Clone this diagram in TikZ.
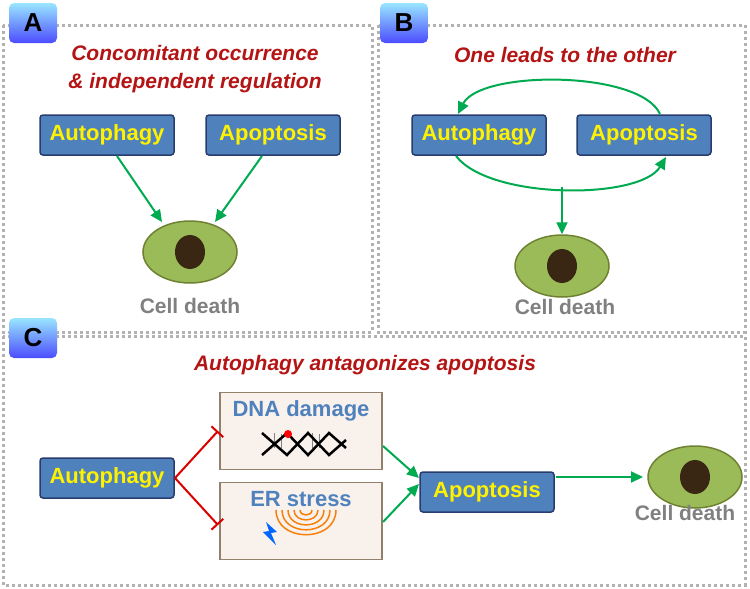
\documentclass[tikz,border=0pt]{standalone}
\usepackage{fontspec}
\setmainfont{Liberation Sans}
\usetikzlibrary{arrows.meta,shapes.geometric,shadings}
\definecolor{boxb}{RGB}{79,129,189}
\definecolor{boxd}{RGB}{40,60,110}
\definecolor{cellg}{RGB}{155,187,89}
\definecolor{celld}{RGB}{110,130,50}
\definecolor{ttlr}{RGB}{180,20,20}
\definecolor{arrg}{RGB}{0,170,80}
\begin{document}
\begin{tikzpicture}[x=1pt,y=-1pt,
 panel/.style={draw=gray!60,line width=3pt,dash pattern=on 3pt off 3pt},
 lab/.style={rounded corners=5pt,top color=blue!25!cyan!40,bottom color=blue!70,draw=none,minimum width=48pt,minimum height=40pt,font=\bfseries\fontsize{26}{26}\selectfont,text=black},
 proc/.style={draw=boxd,fill=boxb,line width=1.5pt,rounded corners=3pt,minimum width=134pt,minimum height=40pt,font=\bfseries\fontsize{22}{22}\selectfont,text=yellow},
 ttl/.style={font=\bfseries\itshape\fontsize{21}{28}\selectfont,text=ttlr,align=center},
 cd/.style={font=\bfseries\fontsize{21}{21}\selectfont,text=gray},
 stress/.style={draw=gray!70!brown,fill=brown!10!white,line width=1.5pt,minimum width=162pt,minimum height=77pt},
 sttl/.style={font=\bfseries\fontsize{22}{22}\selectfont,text=boxb},
 arr/.style={draw=arrg,line width=2pt,-{Triangle[length=12pt,width=11pt]}},
 inh/.style={draw=red!85!black,line width=2pt,-{Bar[width=16pt]}}]
\useasboundingbox (0,0) rectangle (750,589);
% panels
\draw[panel] (3,25) rectangle (372,332);
\draw[panel] (378,25) rectangle (745,332);
\draw[panel] (3,336) rectangle (745,585);
\node[lab] (la) at (33,23) {A};
\node[lab] (lb) at (404,23) {B};
\node[lab] (lc) at (33,338) {C};
% cells
\newcommand{\cell}[2]{\node[ellipse,draw=celld,fill=cellg,line width=1.5pt,minimum width=94pt,minimum height=62pt,inner sep=0pt] (#2) at #1 {};
 \fill[black!70!brown] #1 ellipse (15pt and 17pt);}
% A
\node[ttl] (ta) at (195,69) {Concomitant occurrence\\\& independent regulation};
\node[proc] (aa) at (107,135) {Autophagy};
\node[proc] (ap) at (273,135) {Apoptosis};
\cell{(190,252)}{ca}
\node[cd] (cda) at (190,306) {Cell death};
\path (117,156) coordinate (a1) (162,222) coordinate (a2) (262,156) coordinate (a3) (215,222) coordinate (a4);
\draw[arr] (a1) -- (a2);
\draw[arr] (a3) -- (a4);
% B
\node[ttl] (tb) at (565,55) {One leads to the other};
\node[proc] (ba) at (479,135) {Autophagy};
\node[proc] (bp) at (644,135) {Apoptosis};
\cell{(562,266)}{cb}
\node[cd] (cdb) at (565,307) {Cell death};
\draw[arr] (660,114) .. controls (640,70) and (480,70) .. (458,114);
\draw[arr] (456,156) .. controls (490,200) and (640,200) .. (666,157);
\draw[arr] (562,187) -- (cb.north);
% C
\node[ttl] (tc) at (365,365) {Autophagy antagonizes apoptosis};
\node[proc] (ca2) at (107,478) {Autophagy};
\node[stress] (dna) at (301,431) {};
\node[sttl] (dnat) at (301,411) {DNA damage};
\node[stress] (er) at (301,521) {};
\node[sttl] (ert) at (301,499) {ER stress};
\node[proc] (capo) at (487,492) {Apoptosis};
\cell{(695,477)}{cc}
\node[cd] (cdc) at (685,513) {Cell death};
% DNA icon
\draw[gray,line width=0.6pt] (274,433)--(274,448) (281,434)--(281,448) (312,433)--(312,448) (319,434)--(319,448);
\draw[black,line width=2.5pt] (262,433)--(287,455)--(308,433)--(329,455)--(346,440);
\draw[black,line width=2.5pt] (262,455)--(287,433)--(308,455)--(329,433)--(346,448);
\fill[red] (288,434) circle (4pt);
% ER icon
\foreach \r in {6,12,18,24,30}{
 \draw[orange!85!brown,line width=1.5pt] (306-\r,510) .. controls (306-\r,510+1.1*\r) and (306+\r,510+1.1*\r) .. (306+\r,510);}
\fill[blue!60!cyan] (266,522) -- (277,532) -- (271,533) -- (276,545) -- (263,532) -- (269,531) -- cycle;
\draw[inh] (175,478) -- (218,431);
\draw[inh] (175,478) -- (218,525);
\draw[arr] (383,446) -- (419,478);
\draw[arr] (383,522) -- (419,484);
\draw[arr] (556,477) -- (643,477);
\end{tikzpicture}
\end{document}
